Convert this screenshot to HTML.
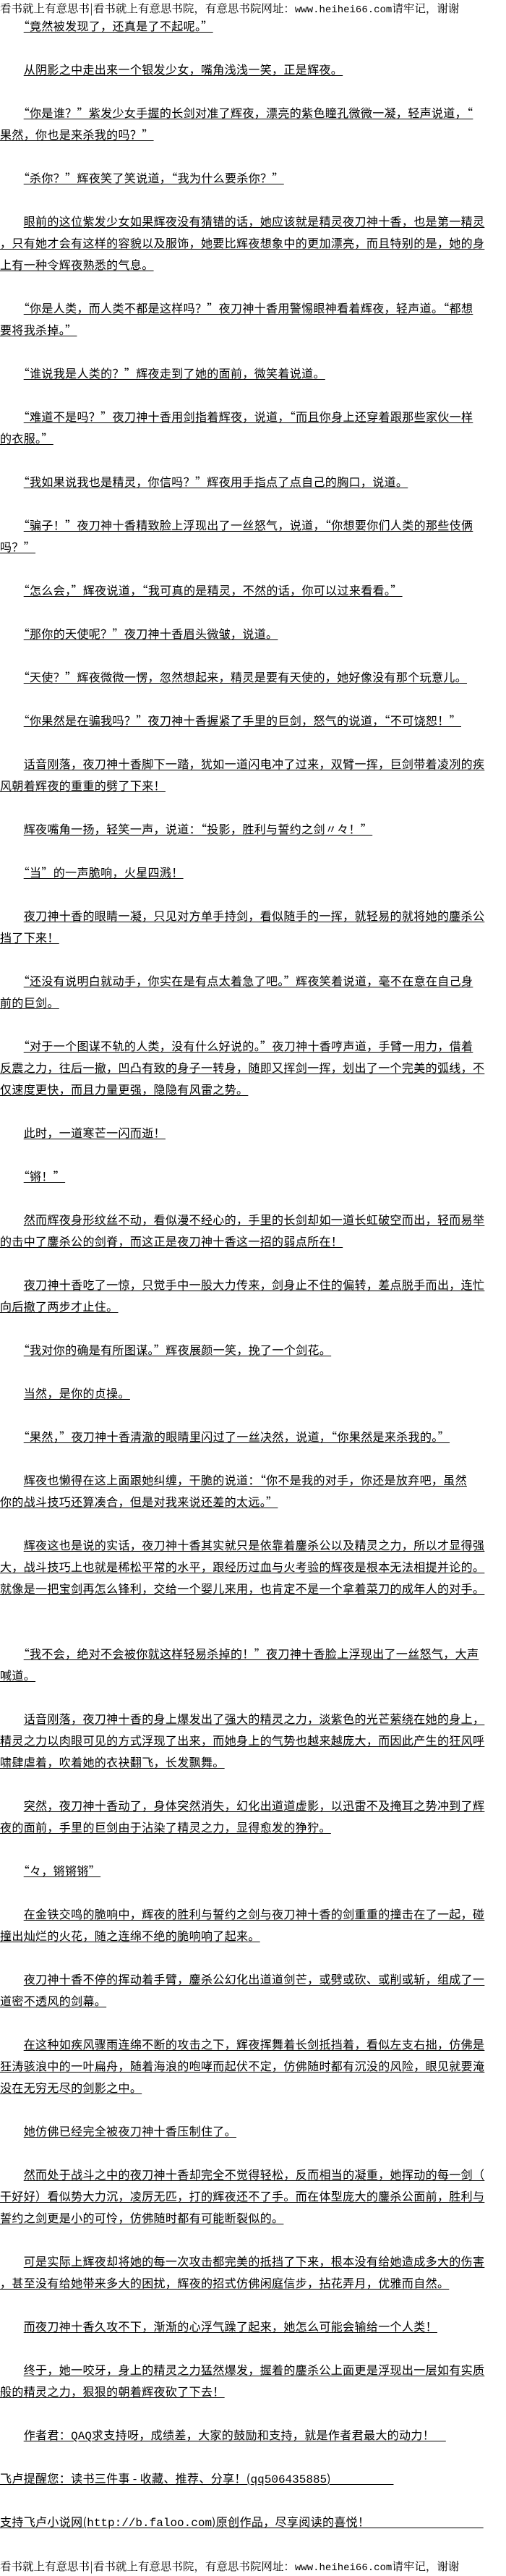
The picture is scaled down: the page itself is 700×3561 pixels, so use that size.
<!DOCTYPE html>
<html><head><meta charset="utf-8">
<style>
html,body{margin:0;padding:0;background:#fff;}
body{width:700px;height:3560px;position:relative;overflow:hidden;color:#000;
font-family:"Noto Sans CJK SC","WenQuanYi Zen Hei",sans-serif;}
.hd{position:absolute;left:0;top:0;height:22px;line-height:22px;font-size:15.5px;white-space:nowrap;font-family:"Noto Serif CJK SC","Noto Sans CJK SC",serif;}
.hd .m{font-family:"Liberation Mono",monospace;font-size:14px;}
#b{position:absolute;left:0;top:20px;width:700px;font-size:16px;letter-spacing:0.35px;}
.l{height:30px;line-height:30px;white-space:nowrap;}
.l span{text-decoration:underline;text-underline-offset:2px;}
.m{font-family:"Liberation Mono",monospace;letter-spacing:0;}
</style></head><body>
<div class="hd">看书就上有意思书|看书就上有意思书院，有意思书院网址：<span class="m">www.heihei66.com</span>请牢记，谢谢</div>
<div id="b">
<div class="l">　　<span>“竟然被发现了，还真是了不起呢。”</span></div>
<div class="l"></div>
<div class="l">　　<span>从阴影之中走出来一个银发少女，嘴角浅浅一笑，正是辉夜。</span></div>
<div class="l"></div>
<div class="l">　　<span>“你是谁？”紫发少女手握的长剑对准了辉夜，漂亮的紫色瞳孔微微一凝，轻声说道，“</span></div>
<div class="l"><span>果然，你也是来杀我的吗？”</span></div>
<div class="l"></div>
<div class="l">　　<span>“杀你？”辉夜笑了笑说道，“我为什么要杀你？”</span></div>
<div class="l"></div>
<div class="l">　　<span>眼前的这位紫发少女如果辉夜没有猜错的话，她应该就是精灵夜刀神十香，也是第一精灵</span></div>
<div class="l"><span>，只有她才会有这样的容貌以及服饰，她要比辉夜想象中的更加漂亮，而且特别的是，她的身</span></div>
<div class="l"><span>上有一种令辉夜熟悉的气息。</span></div>
<div class="l"></div>
<div class="l">　　<span>“你是人类，而人类不都是这样吗？”夜刀神十香用警惕眼神看着辉夜，轻声道。“都想</span></div>
<div class="l"><span>要将我杀掉。”</span></div>
<div class="l"></div>
<div class="l">　　<span>“谁说我是人类的？”辉夜走到了她的面前，微笑着说道。</span></div>
<div class="l"></div>
<div class="l">　　<span>“难道不是吗？”夜刀神十香用剑指着辉夜，说道，“而且你身上还穿着跟那些家伙一样</span></div>
<div class="l"><span>的衣服。”</span></div>
<div class="l"></div>
<div class="l">　　<span>“我如果说我也是精灵，你信吗？”辉夜用手指点了点自己的胸口，说道。</span></div>
<div class="l"></div>
<div class="l">　　<span>“骗子！”夜刀神十香精致脸上浮现出了一丝怒气，说道，“你想要你们人类的那些伎俩</span></div>
<div class="l"><span>吗？”</span></div>
<div class="l"></div>
<div class="l">　　<span>“怎么会，”辉夜说道，“我可真的是精灵，不然的话，你可以过来看看。”</span></div>
<div class="l"></div>
<div class="l">　　<span>“那你的天使呢？”夜刀神十香眉头微皱，说道。</span></div>
<div class="l"></div>
<div class="l">　　<span>“天使？”辉夜微微一愣，忽然想起来，精灵是要有天使的，她好像没有那个玩意儿。</span></div>
<div class="l"></div>
<div class="l">　　<span>“你果然是在骗我吗？”夜刀神十香握紧了手里的巨剑，怒气的说道，“不可饶恕！”</span></div>
<div class="l"></div>
<div class="l">　　<span>话音刚落，夜刀神十香脚下一踏，犹如一道闪电冲了过来，双臂一挥，巨剑带着凌冽的疾</span></div>
<div class="l"><span>风朝着辉夜的重重的劈了下来！</span></div>
<div class="l"></div>
<div class="l">　　<span>辉夜嘴角一扬，轻笑一声，说道：“投影，胜利与誓约之剑〃々！”</span></div>
<div class="l"></div>
<div class="l">　　<span>“当”的一声脆响，火星四溅！</span></div>
<div class="l"></div>
<div class="l">　　<span>夜刀神十香的眼睛一凝，只见对方单手持剑，看似随手的一挥，就轻易的就将她的鏖杀公</span></div>
<div class="l"><span>挡了下来！</span></div>
<div class="l"></div>
<div class="l">　　<span>“还没有说明白就动手，你实在是有点太着急了吧。”辉夜笑着说道，毫不在意在自己身</span></div>
<div class="l"><span>前的巨剑。</span></div>
<div class="l"></div>
<div class="l">　　<span>“对于一个图谋不轨的人类，没有什么好说的。”夜刀神十香哼声道，手臂一用力，借着</span></div>
<div class="l"><span>反震之力，往后一撤，凹凸有致的身子一转身，随即又挥剑一挥，划出了一个完美的弧线，不</span></div>
<div class="l"><span>仅速度更快，而且力量更强，隐隐有风雷之势。</span></div>
<div class="l"></div>
<div class="l">　　<span>此时，一道寒芒一闪而逝！</span></div>
<div class="l"></div>
<div class="l">　　<span>“锵！”</span></div>
<div class="l"></div>
<div class="l">　　<span>然而辉夜身形纹丝不动，看似漫不经心的，手里的长剑却如一道长虹破空而出，轻而易举</span></div>
<div class="l"><span>的击中了鏖杀公的剑脊，而这正是夜刀神十香这一招的弱点所在！</span></div>
<div class="l"></div>
<div class="l">　　<span>夜刀神十香吃了一惊，只觉手中一股大力传来，剑身止不住的偏转，差点脱手而出，连忙</span></div>
<div class="l"><span>向后撤了两步才止住。</span></div>
<div class="l"></div>
<div class="l">　　<span>“我对你的确是有所图谋。”辉夜展颜一笑，挽了一个剑花。</span></div>
<div class="l"></div>
<div class="l">　　<span>当然，是你的贞操。</span></div>
<div class="l"></div>
<div class="l">　　<span>“果然，”夜刀神十香清澈的眼睛里闪过了一丝决然，说道，“你果然是来杀我的。”</span></div>
<div class="l"></div>
<div class="l">　　<span>辉夜也懒得在这上面跟她纠缠，干脆的说道：“你不是我的对手，你还是放弃吧，虽然</span></div>
<div class="l"><span>你的战斗技巧还算凑合，但是对我来说还差的太远。”</span></div>
<div class="l"></div>
<div class="l">　　<span>辉夜这也是说的实话，夜刀神十香其实就只是依靠着鏖杀公以及精灵之力，所以才显得强</span></div>
<div class="l"><span>大，战斗技巧上也就是稀松平常的水平，跟经历过血与火考验的辉夜是根本无法相提并论的。</span></div>
<div class="l"><span>就像是一把宝剑再怎么锋利，交给一个婴儿来用，也肯定不是一个拿着菜刀的成年人的对手。</span></div>
<div class="l"></div>
<div class="l"></div>
<div class="l">　　<span>“我不会，绝对不会被你就这样轻易杀掉的！”夜刀神十香脸上浮现出了一丝怒气，大声</span></div>
<div class="l"><span>喊道。</span></div>
<div class="l"></div>
<div class="l">　　<span>话音刚落，夜刀神十香的身上爆发出了强大的精灵之力，淡紫色的光芒萦绕在她的身上，</span></div>
<div class="l"><span>精灵之力以肉眼可见的方式浮现了出来，而她身上的气势也越来越庞大，而因此产生的狂风呼</span></div>
<div class="l"><span>啸肆虐着，吹着她的衣袂翻飞，长发飘舞。</span></div>
<div class="l"></div>
<div class="l">　　<span>突然，夜刀神十香动了，身体突然消失，幻化出道道虚影，以迅雷不及掩耳之势冲到了辉</span></div>
<div class="l"><span>夜的面前，手里的巨剑由于沾染了精灵之力，显得愈发的狰狞。</span></div>
<div class="l"></div>
<div class="l">　　<span>“々，锵锵锵”</span></div>
<div class="l"></div>
<div class="l">　　<span>在金铁交鸣的脆响中，辉夜的胜利与誓约之剑与夜刀神十香的剑重重的撞击在了一起，碰</span></div>
<div class="l"><span>撞出灿烂的火花，随之连绵不绝的脆响响了起来。</span></div>
<div class="l"></div>
<div class="l">　　<span>夜刀神十香不停的挥动着手臂，鏖杀公幻化出道道剑芒，或劈或砍、或削或斩，组成了一</span></div>
<div class="l"><span>道密不透风的剑幕。</span></div>
<div class="l"></div>
<div class="l">　　<span>在这种如疾风骤雨连绵不断的攻击之下，辉夜挥舞着长剑抵挡着，看似左支右拙，仿佛是</span></div>
<div class="l"><span>狂涛骇浪中的一叶扁舟，随着海浪的咆哮而起伏不定，仿佛随时都有沉没的风险，眼见就要淹</span></div>
<div class="l"><span>没在无穷无尽的剑影之中。</span></div>
<div class="l"></div>
<div class="l">　　<span>她仿佛已经完全被夜刀神十香压制住了。</span></div>
<div class="l"></div>
<div class="l">　　<span>然而处于战斗之中的夜刀神十香却完全不觉得轻松，反而相当的凝重，她挥动的每一剑（</span></div>
<div class="l"><span>干好好）看似势大力沉，凌厉无匹，打的辉夜还不了手。而在体型庞大的鏖杀公面前，胜利与</span></div>
<div class="l"><span>誓约之剑更是小的可怜，仿佛随时都有可能断裂似的。</span></div>
<div class="l"></div>
<div class="l">　　<span>可是实际上辉夜却将她的每一次攻击都完美的抵挡了下来，根本没有给她造成多大的伤害</span></div>
<div class="l"><span>，甚至没有给她带来多大的困扰，辉夜的招式仿佛闲庭信步，拈花弄月，优雅而自然。</span></div>
<div class="l"></div>
<div class="l">　　<span>而夜刀神十香久攻不下，渐渐的心浮气躁了起来，她怎么可能会输给一个人类！</span></div>
<div class="l"></div>
<div class="l">　　<span>终于，她一咬牙，身上的精灵之力猛然爆发，握着的鏖杀公上面更是浮现出一层如有实质</span></div>
<div class="l"><span>般的精灵之力，狠狠的朝着辉夜砍了下去！</span></div>
<div class="l"></div>
<div class="l">　　<span>作者君：<span class="m">QAQ</span>求支持呀，成绩差，大家的鼓励和支持，就是作者君最大的动力！&nbsp;&nbsp;&nbsp;&nbsp;</span></div>
<div class="l"></div>
<div class="l"><span>飞卢提醒您：读书三件事 - 收藏、推荐、分享！(<span class="m">qq506435885</span>)&nbsp;&nbsp;&nbsp;&nbsp;&nbsp;&nbsp;&nbsp;&nbsp;&nbsp;&nbsp;&nbsp;&nbsp;&nbsp;&nbsp;&nbsp;&nbsp;&nbsp;&nbsp;&nbsp;&nbsp;&nbsp;&nbsp;</span></div>
<div class="l"></div>
<div class="l"><span>支持飞卢小说网(<span class="m">http://b.faloo.com</span>)原创作品，尽享阅读的喜悦！&nbsp;&nbsp;&nbsp;&nbsp;&nbsp;&nbsp;&nbsp;&nbsp;&nbsp;&nbsp;&nbsp;&nbsp;&nbsp;&nbsp;&nbsp;&nbsp;&nbsp;&nbsp;&nbsp;&nbsp;&nbsp;&nbsp;&nbsp;&nbsp;&nbsp;&nbsp;&nbsp;&nbsp;&nbsp;&nbsp;&nbsp;&nbsp;&nbsp;&nbsp;&nbsp;&nbsp;&nbsp;&nbsp;&nbsp;&nbsp;</span></div>
</div>
<div class="hd" style="top:3536px;">看书就上有意思书|看书就上有意思书院，有意思书院网址：<span class="m">www.heihei66.com</span>请牢记，谢谢</div>
</body></html>
